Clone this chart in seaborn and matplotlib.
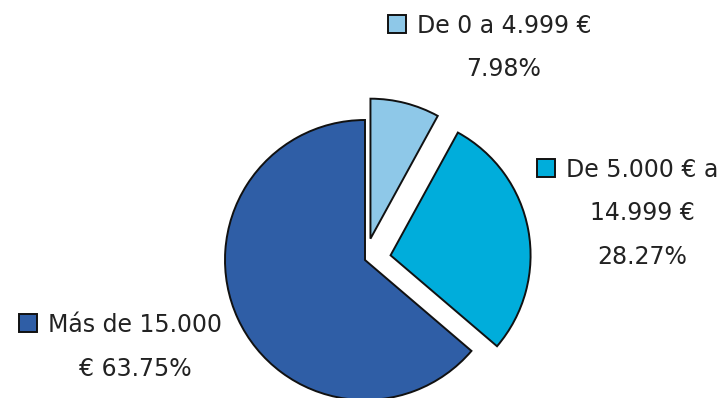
import textwrap

import matplotlib
matplotlib.use("Agg")
import matplotlib.pyplot as plt
from matplotlib.patches import Rectangle
import seaborn as sns

# Income brackets and their share of the total (%)
categories = ["De 0 a 4.999 €", "De 5.000 € a 14.999 €", "Más de 15.000 €"]
shares = [7.98, 28.27, 63.75]
colors = ["#8ec8e8", "#00addb", "#2f5ea6"]

sns.set_theme(style="white")
plt.rcParams["font.family"] = ["DejaVu Sans"]

W, H = 726, 398
fig = plt.figure(figsize=(W / 100, H / 100), dpi=100)
ax = fig.add_axes([0, 0, 1, 1])

radius = 140
# explode offsets are in data (pixel) units here
ax.pie(
    shares,
    colors=colors,
    explode=[22, 26, 0],
    startangle=90,
    counterclock=False,
    radius=radius,
    center=(365, H - 260),
    wedgeprops=dict(edgecolor="#111111", linewidth=1.4),
    frame=True,
)
ax.set_xlim(0, W)
ax.set_ylim(0, H)
ax.set_aspect("equal")
ax.axis("off")

# Label layout: wrap width, text centre x, first baseline (from top)
label_layout = [
    (14, 504, 33),
    (12, 642, 177),
    (13, 135, 332),
]
line_step = 43.5
text_color = "#222222"

fig.canvas.draw()
renderer = fig.canvas.get_renderer()

for name, pct, color, (width, cx, base) in zip(categories, shares, colors, label_layout):
    lines = textwrap.wrap(f"{name} {pct:.2f}%", width=width)
    first = None
    for i, line in enumerate(lines):
        t = ax.text(cx, H - (base + i * line_step), line, ha="center", va="baseline",
                    fontsize=17, color=text_color)
        if i == 0:
            first = t
    # colour key square to the left of the first line
    bb = first.get_window_extent(renderer=renderer)
    inv = ax.transData.inverted()
    x0, _ = inv.transform((bb.x0, bb.y0))
    size = 18
    ax.add_patch(Rectangle((x0 - 11 - size, H - base), size, size,
                           facecolor=color, edgecolor="#111111", linewidth=1.4,
                           clip_on=False))

fig.savefig("out.png", dpi=100, facecolor="white")
